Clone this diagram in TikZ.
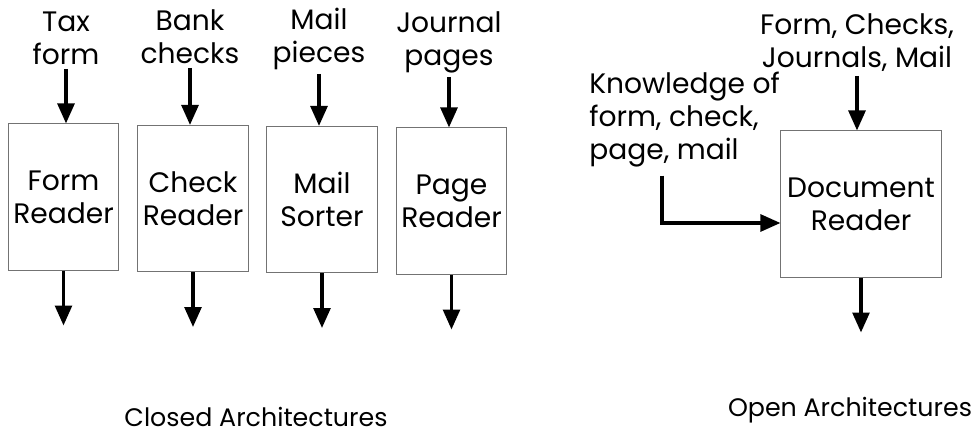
\documentclass[tikz,border=0pt]{standalone}
\usepackage{fontspec}
\setmainfont{Poppins}
\usetikzlibrary{arrows.meta}

\begin{document}
\begin{tikzpicture}
  [x=0.025cm,y=-0.025cm,
   boxN/.style={rectangle,draw=black!55,line width=0.7pt,minimum width=2.75cm,minimum height=3.65cm,
                inner sep=0pt,align=center,font=\fontsize{20}{23.5}\selectfont},
   textN/.style={inner sep=0pt,align=center,font=\fontsize{20}{23.5}\selectfont},
   flow/.style={-{Triangle[length=0.5cm,width=0.42cm]},line width=2.4pt}
  ]
  \useasboundingbox (0,0) rectangle (976,438);

  % closed architectures
  \foreach \x/\y/\n/\t in {63.5/197/form/Form\\Reader,193/198.5/check/Check\\Reader,
                           322/199.5/mail/Mail\\Sorter,451.5/201/page/Page\\Reader} {
     \node[boxN] (\n) at (\x,\y) {\t};
  }

  \foreach \x/\y/\n/\t in {66/65/tax/Tax\\form,190/64/bank/Bank\\checks,
                           319/70/pieces/Mail\\pieces,449/73/journal/Journal\\pages} {
     \node[textN,anchor=south] (\n) at (\x,\y) {\t};
  }

  % open architecture
  \node[boxN,minimum width=4cm] (doc) at (861,204) {Document\\Reader};
  \node[textN,anchor=south] (docs) at (857,72) {Form, Checks,\\Journals, Mail};
  \node[textN,align=left,anchor=north west] (know) at (589,72) {Knowledge of\\form, check,\\page, mail};
  \coordinate (know-bend) at (662,223);

  \foreach \x/\y in {tax/form,bank/check,pieces/mail,journal/page,docs/doc} {
      \draw[flow,shorten <=0.1cm] (\x.south) -- (\x.south |- \y.north);
  }

  \foreach \y in {form,check,mail,page,doc} {
      \path (\y.south) ++(0,55) coordinate (\y-end);
      \draw[flow] (\y.south) -- (\y-end);
  }

  \draw[flow,shorten <=0.2cm] (know.south -| know-bend) -- (know-bend) -- (doc.west |- know-bend);

  \node[textN,font=\fontsize{18}{21}\selectfont,anchor=south] (closed) at (256,427) {Closed Architectures};
  \node[textN,font=\fontsize{18}{21}\selectfont,anchor=south] (open) at (850,423) {Open Architectures};

\end{tikzpicture}
\end{document}
